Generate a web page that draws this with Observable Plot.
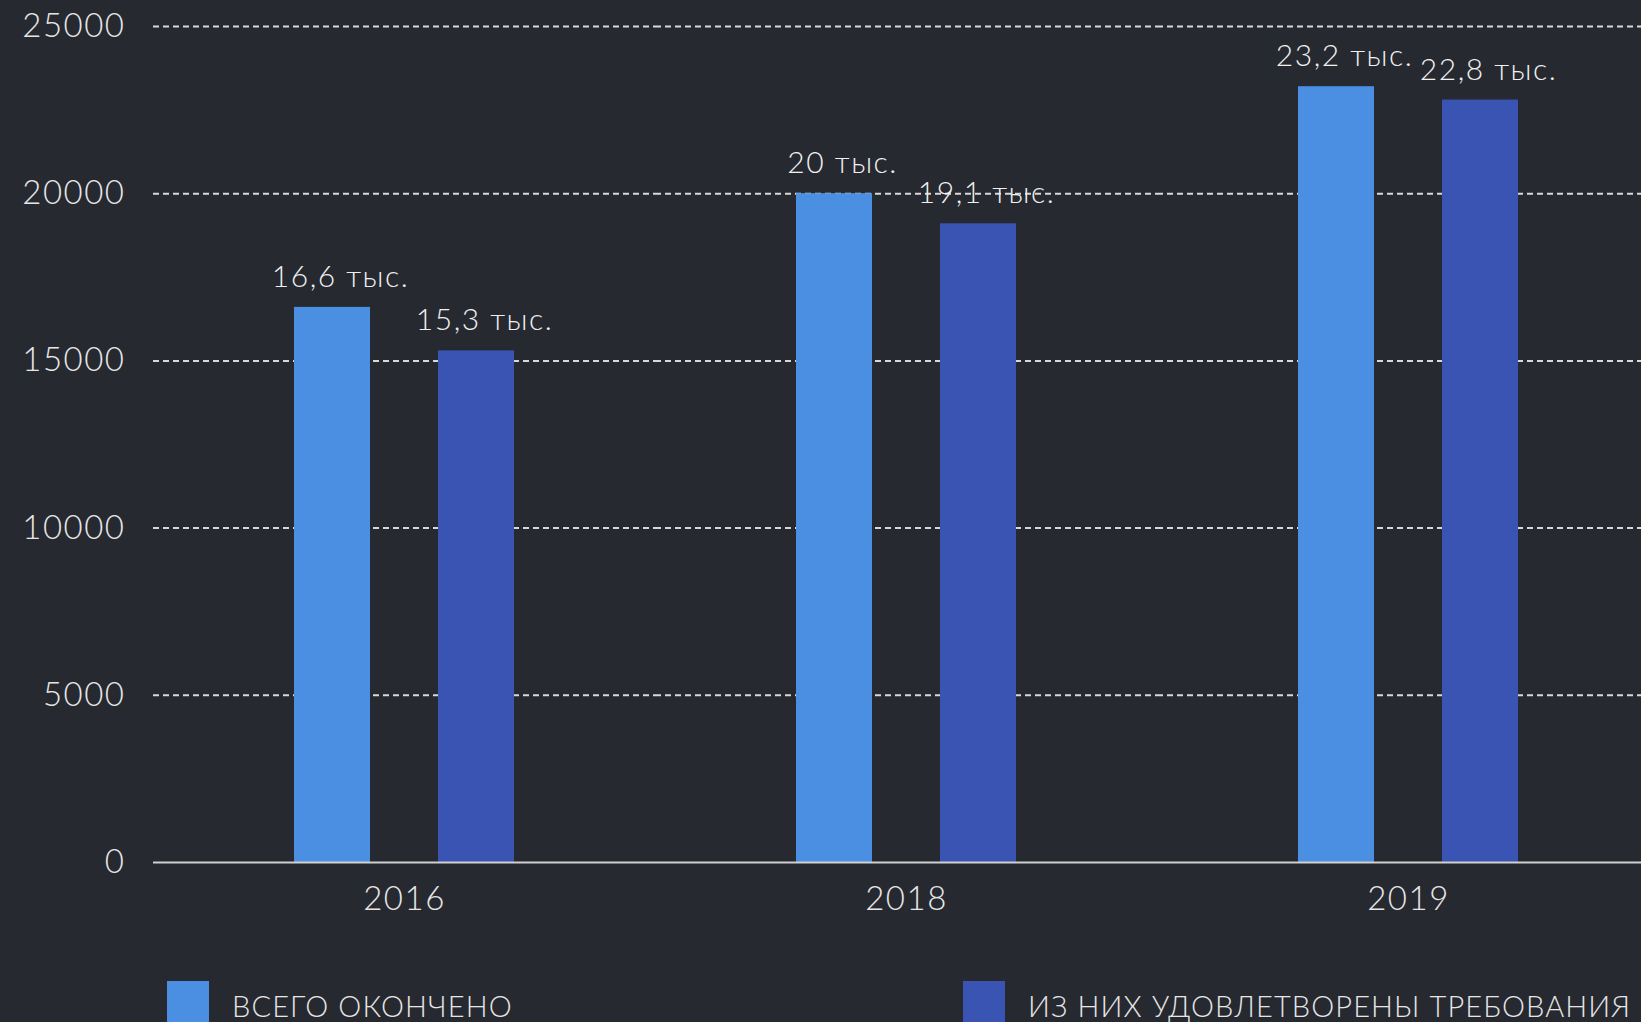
<!DOCTYPE html>
<html>
<head>
<meta charset="utf-8">
<script src="https://cdn.jsdelivr.net/npm/d3@7"></script>
<script src="https://cdn.jsdelivr.net/npm/@observablehq/plot@0.6"></script>
<style>
  html, body { margin: 0; padding: 0; background: #262930; overflow: hidden; width: 1641px; height: 1022px; }
  #chart svg { display: block; }
  .legend { position: relative; height: 90px; font-family: Lato, "Open Sans", sans-serif; font-weight: 300; color: #e6e6e6; font-size: 29px; letter-spacing: 1.1px; white-space: nowrap; }
  .item { position: absolute; top: 49px; display: flex; align-items: flex-start; }
  .sw { width: 42px; height: 44px; margin-right: 23px; }
  .lab { line-height: 1; margin-top: 10px; }
</style>
</head>
<body>
<div id="chart"></div>
<div class="legend" id="legend"></div>
<script>
const years = ["2016", "2018", "2019"];
const series = ["ВСЕГО ОКОНЧЕНО", "ИЗ НИХ УДОВЛЕТВОРЕНЫ ТРЕБОВАНИЯ"];
const totalValues = [16600, 20000, 23200];
const satisfiedValues = [15300, 19100, 22800];
const totalLabels = ["16,6 тыс.", "20 тыс.", "23,2 тыс."];
const satisfiedLabels = ["15,3 тыс.", "19,1 тыс.", "22,8 тыс."];
const yTicks = [0, 5000, 10000, 15000, 20000, 25000];
const colors = ["#4a8fe2", "#3a54b3"];

const data = [];
years.forEach((yr, i) => {
  data.push({year: yr, series: series[0], value: totalValues[i], label: totalLabels[i]});
  data.push({year: yr, series: series[1], value: satisfiedValues[i], label: satisfiedLabels[i]});
});

const font = "Lato, 'Open Sans', sans-serif";

const chart = Plot.plot({
  width: 1641,
  height: 932,
  marginTop: 26,
  marginBottom: 70,
  marginLeft: 153,
  marginRight: 0,
  style: {background: "transparent", color: "#e6e6e6", fontFamily: font, fontSize: "33px", fontWeight: 300, letterSpacing: "1.5px"},
  fx: {domain: years, range: [153, 1659], padding: 0, label: null, tickSize: 0, tickPadding: 24},
  x: {domain: series, paddingInner: 0.469, paddingOuter: 0.966, axis: null},
  y: {domain: [0, 25000], ticks: yTicks, label: null, tickSize: 0, tickPadding: 28, tickFormat: d => String(d)},
  color: {domain: series, range: colors},
  marks: [
    Plot.gridY(yTicks.filter(d => d > 0), {stroke: "#d8d8d8", strokeOpacity: 1, strokeWidth: 2, strokeDasharray: "6,4"}),
    Plot.barY(data, {fx: "year", x: "series", y: "value", fill: "series"}),
    Plot.ruleY([0], {stroke: "#d0d0d0", strokeWidth: 2}),
    Plot.text(data, {fx: "year", x: "series", y: "value", text: "label", dy: -30, dx: 8, fill: "#f0f0f0", fontSize: 30, letterSpacing: 1.5})
  ]
});
document.getElementById("chart").appendChild(chart);

const legend = document.getElementById("legend");
const lefts = [167, 963];
series.forEach((s, i) => {
  const it = document.createElement("div");
  it.className = "item";
  it.style.left = lefts[i] + "px";
  const sw = document.createElement("div");
  sw.className = "sw";
  sw.style.background = colors[i];
  const lab = document.createElement("div");
  lab.className = "lab";
  lab.textContent = s;
  it.appendChild(sw);
  it.appendChild(lab);
  legend.appendChild(it);
});
</script>
</body>
</html>
